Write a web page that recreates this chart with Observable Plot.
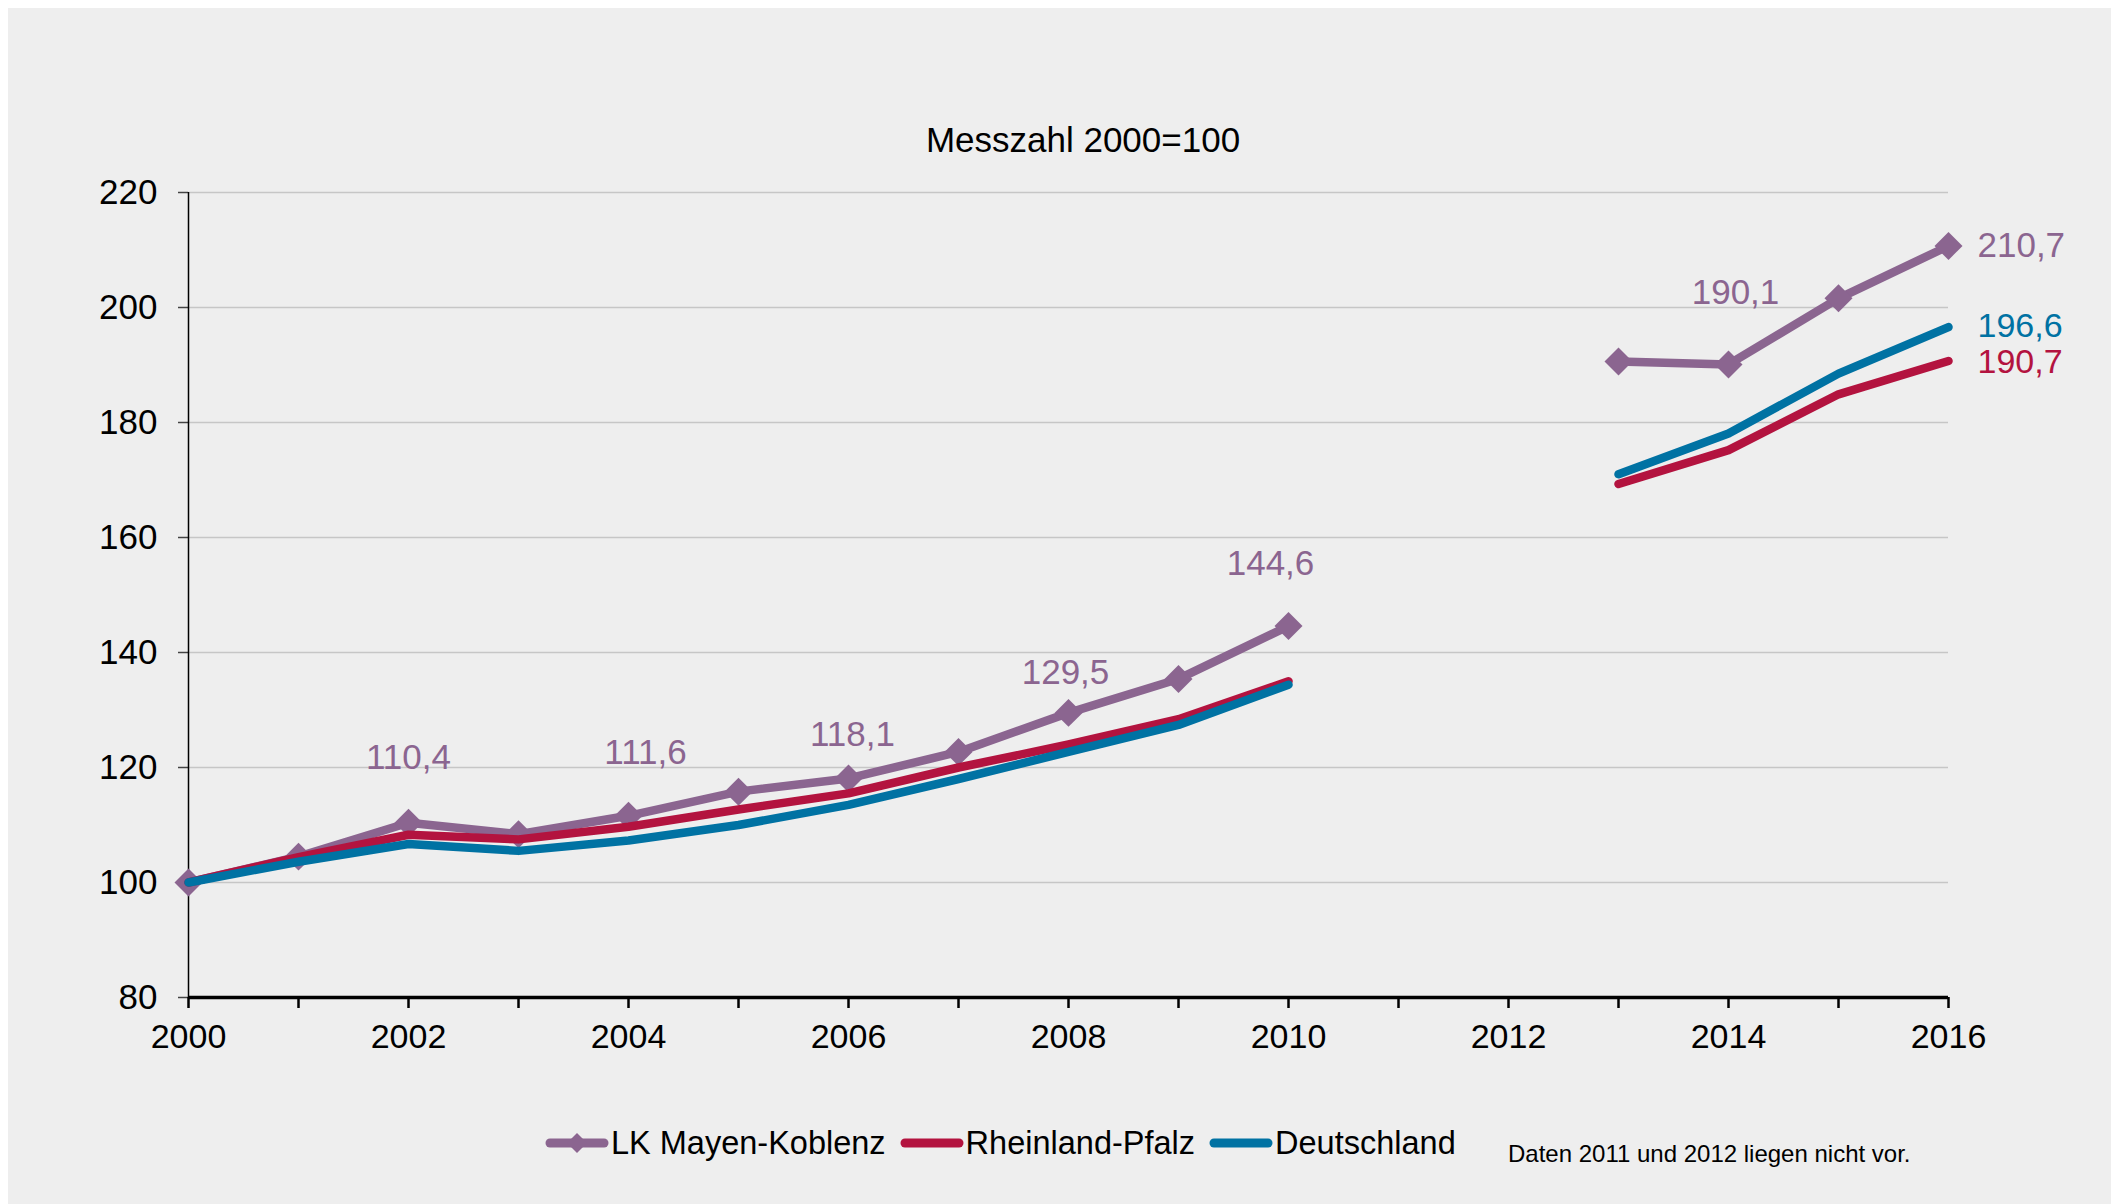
<!DOCTYPE html>
<html>
<head>
<meta charset="utf-8">
<script src="https://cdn.jsdelivr.net/npm/d3@7"></script>
<script src="https://cdn.jsdelivr.net/npm/@observablehq/plot@0.6"></script>
<style>
  html, body { margin: 0; padding: 0; background: #ffffff; }
  #panel { position: absolute; left: 8px; top: 8px; width: 2103px; height: 1196px; background: #eeeeee;
           font-family: "Liberation Sans", Arial, sans-serif; color: #000; overflow: hidden; }
  #title { position: absolute; left: 0; width: 2150px; top: 112px; line-height: 40px; text-align: center; font-size: 35px; }
  #chart { position: absolute; left: 0; top: 162px; }
  #legend { position: absolute; left: 537px; top: 1115px; height: 40px; display: flex; align-items: center; font-size: 32.5px; }
  #legend .item { display: flex; align-items: center; margin-right: 14px; }
  #legend svg { display: block; margin-right: 2px; }
  #note { position: absolute; left: 1500px; top: 1131px; line-height: 30px; font-size: 24px; }
</style>
</head>
<body>
<div id="panel">
  <div id="title"></div>
  <div id="chart"></div>
  <div id="legend"></div>
  <div id="note"></div>
</div>
<script>
// ---- data ----
const titleText = "Messzahl 2000=100";
const noteText = "Daten 2011 und 2012 liegen nicht vor.";
const seriesNames = ["LK Mayen-Koblenz", "Rheinland-Pfalz", "Deutschland"];
const years = [2000, 2001, 2002, 2003, 2004, 2005, 2006, 2007, 2008, 2009, 2010, 2011, 2012, 2013, 2014, 2015, 2016];
const mayenKoblenz = [100, 104.5, 110.4, 108.4, 111.6, 115.8, 118.1, 122.7, 129.5, 135.4, 144.6, null, null, 190.6, 190.1, 201.6, 210.7];
const rheinlandPfalz = [100, 104.4, 108.3, 107.5, 109.7, 112.7, 115.5, 120.0, 124.0, 128.4, 135.0, null, null, 169.3, 175.2, 184.9, 190.7];
const deutschland = [100, 103.6, 106.7, 105.5, 107.3, 110.0, 113.5, 118.0, 122.7, 127.4, 134.4, null, null, 171.0, 178.1, 188.5, 196.6];
const yTicks = [80, 100, 120, 140, 160, 180, 200, 220];
const xLabelYears = [2000, 2002, 2004, 2006, 2008, 2010, 2012, 2014, 2016];
// labelled points of LK Mayen-Koblenz (above the line)
const labelYears = [2002, 2004, 2006, 2008, 2010, 2014];
// end labels (2016) for each series
const endYear = 2016;

// ---- styles ----
const colors = ["#8b6590", "#b3133f", "#0072a3"];
const labelDx = [0, 17, 4, -3, -18, 7];
const labelDy = [-65, -63, -44, -40, -62, -72];
const endFontSize = [35, 34, 34];
const endDy = [0, 1, -1];

const seriesValues = [mayenKoblenz, rheinlandPfalz, deutschland];
const rows = (vals) => years.map((x, i) => ({x, y: vals[i]}));
const fmt = (v) => d3.format(".1f")(v).replace(".", ",");
const valueAt = (vals, yr) => vals[years.indexOf(yr)];

document.getElementById("title").textContent = titleText;
document.getElementById("note").textContent = noteText;

const marks = [
  Plot.gridY(yTicks.filter(t => t > 80), {stroke: "#c6c6c6", strokeOpacity: 1, strokeWidth: 1.5}),
  Plot.axisY(yTicks, {tickSize: 10, tickPadding: 21, fontSize: 35, stroke: "#444", strokeWidth: 1.5, tickFormat: d => String(d), label: null}),
  Plot.axisX(years, {tickSize: 11, tickPadding: 15, fontSize: 34, strokeWidth: 2.5, stroke: "#000",
                     tickFormat: d => xLabelYears.includes(d) ? String(d) : "", label: null}),
  Plot.ruleX([years[0]], {stroke: "#000", strokeWidth: 1.5}),
  Plot.ruleY([yTicks[0]], {stroke: "#000", strokeWidth: 3.5}),
  // LK Mayen-Koblenz line with diamond markers
  Plot.line(rows(mayenKoblenz), {x: "x", y: "y", stroke: colors[0], strokeWidth: 8.5, strokeLinecap: "round", strokeLinejoin: "round"}),
  Plot.dot(rows(mayenKoblenz), {x: "x", y: "y", symbol: "diamond2", r: 12.6, fill: colors[0], stroke: "none"}),
  Plot.line(rows(rheinlandPfalz), {x: "x", y: "y", stroke: colors[1], strokeWidth: 8.5, strokeLinecap: "round", strokeLinejoin: "round"}),
  Plot.line(rows(deutschland), {x: "x", y: "y", stroke: colors[2], strokeWidth: 8.5, strokeLinecap: "round", strokeLinejoin: "round"}),
  ...labelYears.map((yr, i) => Plot.text([{x: yr, y: valueAt(mayenKoblenz, yr)}], {
      x: "x", y: "y", text: d => fmt(d.y), fill: colors[0], fontSize: 35, dx: labelDx[i], dy: labelDy[i]})),
  ...seriesValues.map((vals, i) => Plot.text([{x: endYear, y: valueAt(vals, endYear)}], {
      x: "x", y: "y", text: d => fmt(d.y), fill: colors[i], fontSize: endFontSize[i], textAnchor: "start", dx: 29, dy: endDy[i]}))
];

const chart = Plot.plot({
  width: 2103,
  height: 900,
  marginTop: 22,
  marginBottom: 73,
  marginLeft: 180,
  marginRight: 163,
  x: {domain: [years[0], years[years.length - 1]]},
  y: {domain: [yTicks[0], yTicks[yTicks.length - 1]]},
  style: {background: "transparent", fontFamily: "'Liberation Sans', Arial, sans-serif", fontSize: "34px", color: "#000", overflow: "visible"},
  marks
});
document.getElementById("chart").appendChild(chart);

// ---- legend ----
const legend = d3.select("#legend");
seriesNames.forEach((name, i) => {
  const item = legend.append("div").attr("class", "item");
  const sw = item.append("svg").attr("width", 64).attr("height", 24);
  sw.append("line").attr("x1", 5).attr("x2", 59).attr("y1", 12).attr("y2", 12)
    .attr("stroke", colors[i]).attr("stroke-width", 9).attr("stroke-linecap", "round");
  if (i === 0) {
    sw.append("path").attr("d", d3.symbol(d3.symbolDiamond2, 10 * 10 / 0.62625 / 0.62625)())
      .attr("transform", "translate(32,12)").attr("fill", colors[i]);
  }
  item.append("span").text(name);
});
</script>
</body>
</html>
